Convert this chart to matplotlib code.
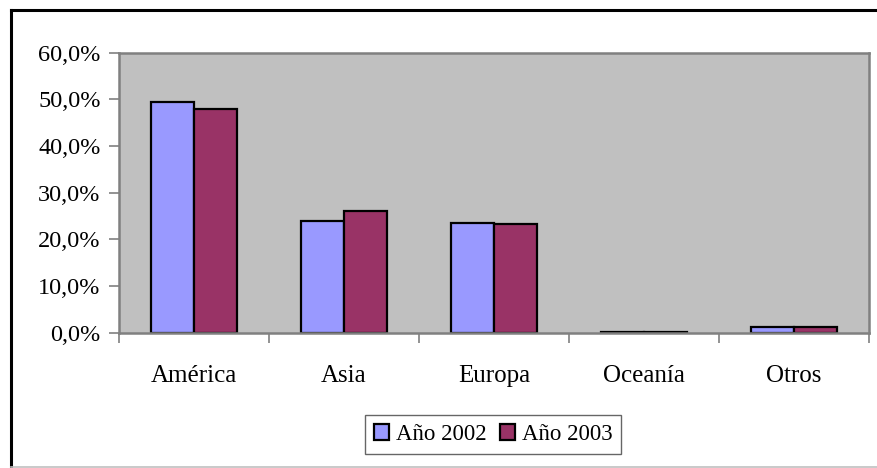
import matplotlib
matplotlib.use("Agg")
import matplotlib.pyplot as plt
import numpy as np
from matplotlib.lines import Line2D

categories = ["América", "Asia", "Europa", "Oceanía", "Otros"]
series_names = ["Año 2002", "Año 2003"]
values_2002 = [49.4, 24.0, 23.6, 0.2, 1.3]
values_2003 = [48.0, 26.1, 23.2, 0.2, 1.3]
yticks = [0, 10, 20, 30, 40, 50, 60]
ytick_labels = ["0,0%", "10,0%", "20,0%", "30,0%", "40,0%", "50,0%", "60,0%"]

plt.rcParams['font.family'] = ['Liberation Serif', 'DejaVu Serif']

W, H = 878, 468
fig = plt.figure(figsize=(W / 100, H / 100), dpi=100)
fig.patch.set_facecolor("white")

left, right, top, bottom = 118.7, 869.0, 52.7, 332.7
ax = fig.add_axes([left / W, 1 - bottom / H, (right - left) / W, (bottom - top) / H])
ax.set_facecolor("#C0C0C0")

x = np.arange(len(categories))
bw = 1 / 3.5
ax.bar(x - bw / 2, values_2002, bw, color="#9999FF", edgecolor="black", linewidth=1.6, label=series_names[0])
ax.bar(x + bw / 2, values_2003, bw, color="#993366", edgecolor="black", linewidth=1.6, label=series_names[1])

ax.set_xlim(-0.5, len(categories) - 0.5)
ax.set_ylim(0, 60)
ax.set_yticks(yticks)
ax.set_yticklabels(ytick_labels, fontsize=17.5)
ax.set_xticks(np.arange(len(categories) + 1) - 0.5)
ax.set_xticklabels([])
ax.set_xticks(x, minor=True)
ax.set_xticklabels(categories, minor=True, fontsize=18)
ax.tick_params(axis="x", which="minor", length=0, pad=23)
ax.tick_params(axis="x", which="major", length=7, width=1.2, color="#808080", direction="out")
ax.tick_params(axis="y", length=7, width=1.2, color="#808080", direction="out", pad=6)

for s in ax.spines.values():
    s.set_color("#808080")
    s.set_linewidth(1.8)

# outer chart frame
fig.add_artist(Line2D([11 / W, 11 / W], [1 - 10 / H, 1 - 467 / H], color="black", lw=2.2, transform=fig.transFigure))
fig.add_artist(Line2D([11 / W, 1.0], [1 - 10 / H, 1 - 10 / H], color="black", lw=2.2, transform=fig.transFigure))
fig.add_artist(Line2D([11 / W, 1.0], [1 - 467 / H, 1 - 467 / H], color="#C0C0C0", lw=1.2, transform=fig.transFigure))

leg = fig.legend(loc="center", bbox_to_anchor=(493 / W, 1 - 434.5 / H), ncol=2, fontsize=16.5,
                 frameon=True, fancybox=False, edgecolor="#404040", handlelength=0.65, handleheight=0.65,
                 handletextpad=0.3, columnspacing=0.6, borderpad=0.4, borderaxespad=0)
leg.get_frame().set_linewidth(1.0)

fig.savefig("out.png", dpi=100)
